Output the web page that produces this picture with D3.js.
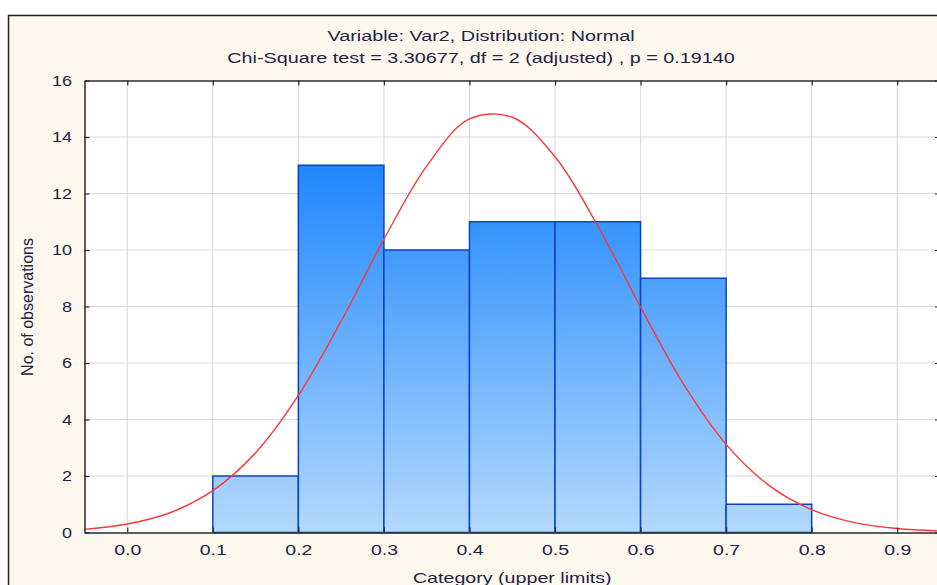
<!DOCTYPE html>
<html>
<head>
<meta charset="utf-8">
<script src="https://cdn.jsdelivr.net/npm/d3@7"></script>
<style>
  body { margin: 0; background: #ffffff; }
  svg { display: block; font-family: "Liberation Sans", Arial, sans-serif; }
</style>
</head>
<body>
<svg id="chart" width="937" height="585"></svg>
<script>
// Histogram of Var2: class lower/upper limits and observed counts
const binLower = [0.1, 0.2, 0.3, 0.4, 0.5, 0.6, 0.7];
const binUpper = [0.2, 0.3, 0.4, 0.5, 0.6, 0.7, 0.8];
const counts   = [2, 13, 10, 11, 11, 9, 1];

// Expected frequencies of the fitted normal distribution
const curveX = [-0.05, 0.00, 0.05, 0.10, 0.15, 0.20, 0.25, 0.30, 0.35, 0.40, 0.45,
                 0.50, 0.55, 0.60, 0.65, 0.70, 0.75, 0.80, 0.85, 0.90, 0.95];
const curveY = [0.11, 0.30, 0.70, 1.48, 2.82, 4.85, 7.48, 10.38, 12.97, 14.64, 14.70,
                13.30, 10.85, 7.98, 5.26, 3.12, 1.67, 0.81, 0.35, 0.14, 0.05];

const xTicks = [0.0, 0.1, 0.2, 0.3, 0.4, 0.5, 0.6, 0.7, 0.8, 0.9];
const yTicks = [0, 2, 4, 6, 8, 10, 12, 14, 16];

const titleLines = [
  "Variable: Var2, Distribution: Normal",
  "Chi-Square test = 3.30677, df = 2 (adjusted) , p = 0.19140"
];
const xTitle = "Category (upper limits)";
const yTitle = "No. of observations";

const textColor = "#1d2445";
const wide = 1.3;   // horizontal stretch of the horizontal labels
const svg = d3.select("#chart");

const plot = { left: 84.5, top: 80.5, right: 940, bottom: 532.5 };

const x = d3.scaleLinear().domain([-0.05, 0.95]).range([plot.left, plot.right]);
const y = d3.scaleLinear().domain([0, 16]).range([plot.bottom, plot.top]);

// Outer frame
svg.append("rect")
  .attr("x", 8.5).attr("y", 15.5)
  .attr("width", 960).attr("height", 620)
  .attr("fill", "#fdf8ee")
  .attr("stroke", "#222").attr("stroke-width", 1.5);

// Horizontally stretched text placed at (px, py)
function wideText(px, py, str, size, sx) {
  return svg.append("g")
    .attr("transform", `translate(${px},${py}) scale(${sx},1)`)
    .append("text")
    .attr("text-anchor", "middle")
    .attr("font-size", size)
    .attr("fill", textColor)
    .text(str);
}

// Titles
titleLines.forEach((t, i) => wideText(481, 41 + i * 22, t, 15, 1.32));

// Plot background
svg.append("rect")
  .attr("x", plot.left).attr("y", plot.top)
  .attr("width", plot.right - plot.left).attr("height", plot.bottom - plot.top)
  .attr("fill", "#ffffff");

const defs = svg.append("defs");
defs.append("clipPath").attr("id", "plotClip")
  .append("rect")
  .attr("x", plot.left).attr("y", plot.top)
  .attr("width", plot.right - plot.left).attr("height", plot.bottom - plot.top);

const grad = defs.append("linearGradient")
  .attr("id", "barFill")
  .attr("gradientUnits", "userSpaceOnUse")
  .attr("x1", 0).attr("x2", 0)
  .attr("y1", y(13)).attr("y2", y(0));
grad.append("stop").attr("offset", "0%").attr("stop-color", "#1f87fc");
grad.append("stop").attr("offset", "100%").attr("stop-color", "#b3d9fe");

// Grid
const grid = svg.append("g").attr("stroke", "#dcdcdc").attr("stroke-width", 1.2);
grid.selectAll("line.v").data(xTicks).join("line")
  .attr("class", "v")
  .attr("x1", d => x(d)).attr("x2", d => x(d))
  .attr("y1", plot.top).attr("y2", plot.bottom);
grid.selectAll("line.h").data(yTicks.slice(1, -1)).join("line")
  .attr("class", "h")
  .attr("x1", plot.left).attr("x2", plot.right)
  .attr("y1", d => y(d)).attr("y2", d => y(d));

// Bars
svg.append("g").selectAll("rect").data(counts).join("rect")
  .attr("x", (d, i) => x(binLower[i]))
  .attr("width", (d, i) => x(binUpper[i]) - x(binLower[i]))
  .attr("y", d => y(d))
  .attr("height", d => y(0) - y(d))
  .attr("fill", "url(#barFill)")
  .attr("stroke", "#0d44c6")
  .attr("stroke-width", 1.5);

// Fitted normal curve
const line = d3.line()
  .x((d, i) => x(curveX[i]))
  .y(d => y(d))
  .curve(d3.curveCatmullRom.alpha(0.5));
svg.append("path")
  .datum(curveY)
  .attr("clip-path", "url(#plotClip)")
  .attr("d", line)
  .attr("fill", "none")
  .attr("stroke", "#ff3535")
  .attr("stroke-width", 1.4);

// Axes (ticks point inward on all four sides)
function styleAxis(g) {
  g.select(".domain").attr("stroke", "#2a2a2a").attr("stroke-width", 1.5);
  g.selectAll(".tick line").attr("stroke", "#2a2a2a").attr("stroke-width", 1.2);
  g.selectAll(".tick text")
    .attr("font-size", 15)
    .attr("fill", textColor)
    .attr("font-family", "\"Liberation Sans\", Arial, sans-serif");
}

const xAxisG = svg.append("g")
  .attr("transform", `translate(0,${plot.bottom})`)
  .call(d3.axisBottom(x).tickValues(xTicks).tickFormat(d3.format(".1f"))
    .tickSizeInner(-5).tickSizeOuter(0).tickPadding(12))
  .call(styleAxis);
xAxisG.selectAll(".tick text").attr("transform", `scale(${wide},1)`);

svg.append("g")
  .attr("transform", `translate(0,${plot.top})`)
  .call(d3.axisTop(x).tickValues(xTicks).tickFormat("")
    .tickSizeInner(-5).tickSizeOuter(0))
  .call(styleAxis);

const yAxisG = svg.append("g")
  .attr("transform", `translate(${plot.left},0)`)
  .call(d3.axisLeft(y).tickValues(yTicks).tickFormat(d3.format("d"))
    .tickSizeInner(-5).tickSizeOuter(0).tickPadding(12))
  .call(styleAxis);
yAxisG.selectAll(".tick text")
  .attr("x", -12.5 / 1.2)
  .attr("transform", "scale(1.2,1)");

svg.append("g")
  .attr("transform", `translate(${plot.right},0)`)
  .call(d3.axisRight(y).tickValues(yTicks).tickFormat("")
    .tickSizeInner(-5).tickSizeOuter(0))
  .call(styleAxis);

// Axis titles
wideText((plot.left + plot.right) / 2, 583, xTitle, 15, 1.31);

svg.append("text")
  .attr("transform", "translate(33,307) rotate(-90)")
  .attr("text-anchor", "middle")
  .attr("font-size", 16)
  .attr("fill", textColor)
  .text(yTitle);
</script>
</body>
</html>
